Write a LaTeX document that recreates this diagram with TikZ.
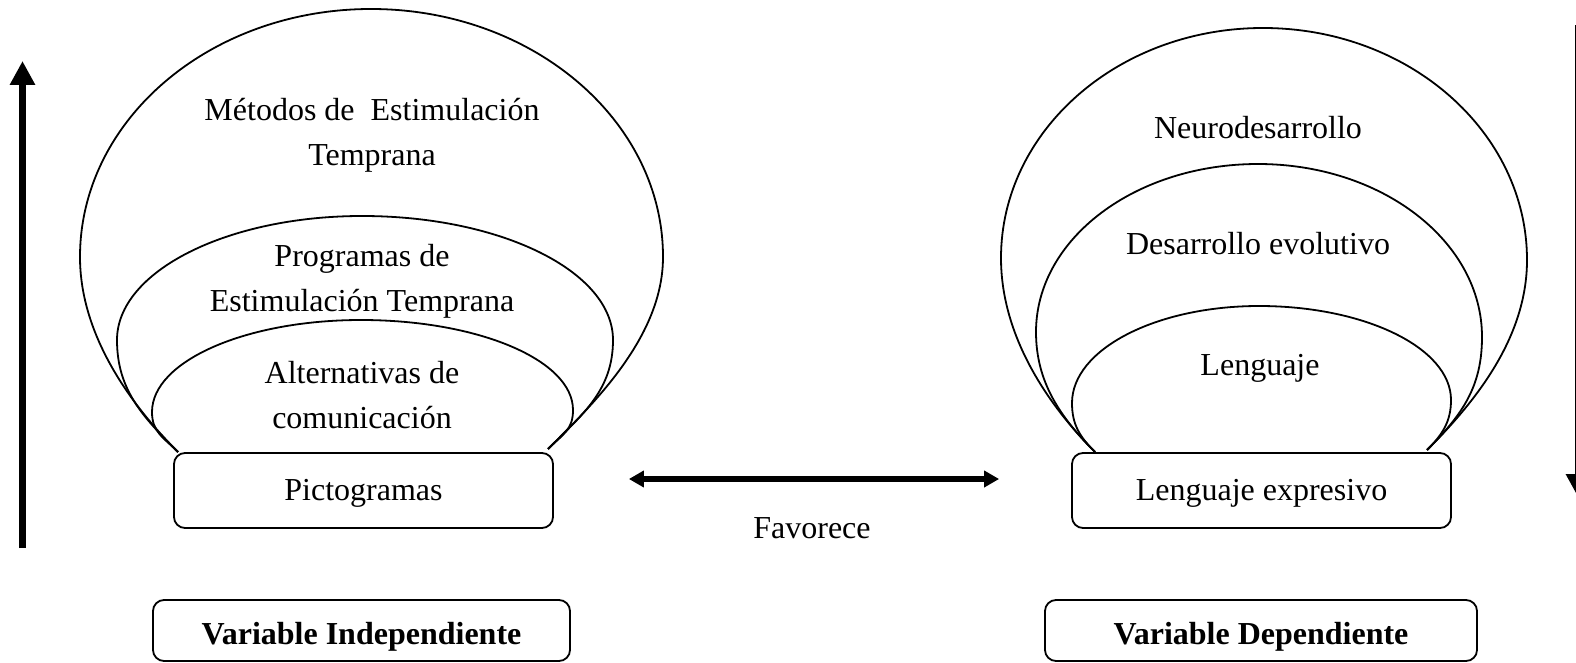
\documentclass[tikz,border=0pt]{standalone}
\usepackage{fontspec}
\setmainfont{Liberation Serif}
\usetikzlibrary{arrows.meta}
\begin{document}
\begin{tikzpicture}[x=1pt,y=-1pt,
  every node/.style={font=\fontsize{32}{45}\selectfont, align=center, inner sep=0pt},
  bal/.style={line width=1.8pt, line join=round},
  boxnode/.style={draw, line width=1.8pt, rounded corners=11pt},
  bigarrow/.style={line width=7pt, -{Triangle[length=24pt,width=24pt]}},
  favarrow/.style={line width=5.5pt, {Triangle[length=15pt,width=16pt]}-{Triangle[length=15pt,width=16pt]}},
]
\useasboundingbox (0,0) rectangle (1576,663);

% ---------- left group balloons ----------
% outer
\draw[bal] (178,452) .. controls (133,407) and (80,337) .. (80,257)
  .. controls (80,120) and (210,9) .. (371,9)
  .. controls (532,9) and (663,120) .. (663,257)
  .. controls (663,337) and (593,404) .. (548,449);
% middle
\draw[bal] (178,452) .. controls (143,417) and (117,390) .. (117,340)
  .. controls (117,271.5) and (227,216) .. (362,216)
  .. controls (501,216) and (613,271.5) .. (613,340)
  .. controls (613,390) and (583,414) .. (548,449);
% inner
\draw[bal] (178,452) .. controls (163,437) and (152,432) .. (152,412)
  .. controls (152,361) and (246,320) .. (361,320)
  .. controls (478,320) and (573,360) .. (573,410)
  .. controls (573,430) and (563,434) .. (548,449);

% ---------- right group balloons ----------
\draw[bal] (1095,452) .. controls (1050,407) and (1001,338) .. (1001,258)
  .. controls (1001,131) and (1118,28) .. (1263,28)
  .. controls (1409,28) and (1527,132) .. (1527,260)
  .. controls (1527,340) and (1472,405) .. (1427,450);
\draw[bal] (1095,452) .. controls (1060,417) and (1036,382) .. (1036,332)
  .. controls (1036,239) and (1135,164) .. (1258,164)
  .. controls (1382,164) and (1482,241.5) .. (1482,337)
  .. controls (1482,387) and (1462,415) .. (1427,450);
\draw[bal] (1095,452) .. controls (1080,437) and (1072,425) .. (1072,403)
  .. controls (1072,349.4) and (1156,306) .. (1259,306)
  .. controls (1365,306) and (1451,348) .. (1451,400)
  .. controls (1451,422) and (1442,435) .. (1427,450);

% ---------- texts inside balloons ----------
\node (metodos) at (372,135.5) {Métodos de\ \ Estimulación\\Temprana};
\node (programas) at (362,281) {Programas de\\Estimulación Temprana};
\node (alternativas) at (362,395) {Alternativas de\\comunicación};
\node (neuro) at (1258,128) {Neurodesarrollo};
\node (desarrollo) at (1258,244) {Desarrollo evolutivo};
\node (lenguaje) at (1260,368) {Lenguaje};

% ---------- boxes ----------
\node[boxnode, minimum width=379pt, minimum height=75pt, text height=27pt, text depth=7pt] (pict) at (363.5,490.5) {Pictogramas};
\node[boxnode, minimum width=379pt, minimum height=75pt, text height=27pt, text depth=7pt] (lexp) at (1261.5,490.5) {Lenguaje expresivo};
\node[boxnode, minimum width=417pt, minimum height=61pt, text height=35pt, text depth=7pt] (vind) at (361.5,630.5) {\textbf{Variable Independiente}};
\node[boxnode, minimum width=432pt, minimum height=61pt, text height=35pt, text depth=7pt] (vdep) at (1261,630.5) {\textbf{Variable Dependiente}};

% ---------- connector ----------
\draw[favarrow] ([xshift=75pt,yshift=11.5pt]pict.east) -- ([xshift=-72pt,yshift=11.5pt]lexp.west);
\node (favorece) at (812,528) {Favorece};

% ---------- side arrows ----------
\coordinate (upbot) at (22.5,548);
\coordinate (uptop) at (22.5,61);
\draw[bigarrow] (upbot) -- (uptop);
\coordinate (dntop) at (1578.5,25);
\coordinate (dnbot) at (1578.5,498);
\draw[bigarrow] (dntop) -- (dnbot);
\end{tikzpicture}
\end{document}
